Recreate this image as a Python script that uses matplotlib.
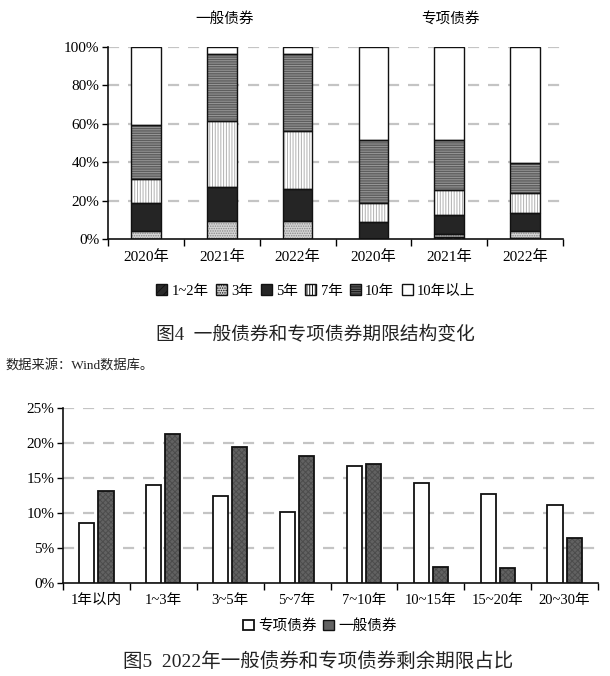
import matplotlib
matplotlib.use("Agg")
import matplotlib.pyplot as plt
from matplotlib.patches import Patch
import numpy as np

plt.rcParams['font.family'] = ['Liberation Serif', 'Noto Sans CJK SC']
plt.rcParams['hatch.linewidth'] = 0.7

# ---------- data: figure 4 ----------
years = ["2020年", "2021年", "2022年", "2020年", "2021年", "2022年"]
groups = ["一般债券", "专项债券"]
maturities = ["1~2年", "3年", "5年", "7年", "10年", "10年以上"]
m_1_2 = [0.0, 0.0, 0.0, 0.0, 1.0, 0.5]
m_3 = [4.3, 9.3, 9.2, 0.0, 1.8, 3.5]
m_5 = [14.6, 18.0, 16.6, 8.8, 9.8, 9.3]
m_7 = [12.4, 34.3, 30.6, 9.9, 12.7, 10.4]
m_10 = [28.0, 34.8, 40.0, 32.7, 26.1, 16.1]
m_10plus = [40.7, 3.6, 3.6, 48.6, 48.6, 60.2]

# ---------- data: figure 5 ----------
remain_cats = ["1年以内", "1~3年", "3~5年", "5~7年", "7~10年", "10~15年", "15~20年", "20~30年"]
special = [8.6, 14.0, 12.4, 10.1, 16.7, 14.3, 12.7, 11.2]
general = [13.2, 21.3, 19.5, 18.2, 17.0, 2.3, 2.1, 6.4]

W, H = 610, 676
fig = plt.figure(figsize=(W / 100, H / 100), dpi=100)

def px_axes(x0, y0, x1, y1):
    return fig.add_axes([x0 / W, 1 - y1 / H, (x1 - x0) / W, (y1 - y0) / H])

grid_kw = dict(color='#c4c4c4', lw=1.6, dashes=(5, 4), zorder=0)

# ================= Figure 4 =================
ax = px_axes(108, 47, 563, 239)
series = [m_1_2, m_3, m_5, m_7, m_10, m_10plus]
styles = [
    dict(fc='#2a2a2a', hc='#d0d0d0', hatch='////'),
    dict(fc='#d4d4d4', hc='#8a8a8a', hatch='.......'),
    dict(fc='#252525', hc='#252525', hatch=None),
    dict(fc='#ffffff', hc='#b0b0b0', hatch='||||||'),
    dict(fc='#5e5e5e', hc='#999999', hatch='-------'),
    dict(fc='#ffffff', hc='#ffffff', hatch=None),
]
x = np.arange(len(years))
bw = 0.39
bottom = np.zeros(len(years))
for vals, st in zip(series, styles):
    v = np.array(vals)
    ax.bar(x, v, bw, bottom=bottom, color=st['fc'], edgecolor=st['hc'],
           hatch=st['hatch'], lw=0, zorder=2)
    ax.bar(x, v, bw, bottom=bottom, fill=False, edgecolor='#111111', lw=1.0, zorder=3)
    bottom += v

ax.set_xlim(-0.5, len(years) - 0.5)
ax.set_ylim(0, 100)
for yv in [20, 40, 60, 80, 100]:
    ax.axhline(yv, **grid_kw)
ax.set_yticks([0, 20, 40, 60, 80, 100])
ax.set_yticklabels([f"{v}%" for v in [0, 20, 40, 60, 80, 100]], fontsize=11)
ax.set_xticks(x)
ax.set_xticklabels(years, fontsize=11)
ax.set_xticks(np.arange(-0.5, len(years)), minor=True)
ax.tick_params(axis='x', which='major', length=0, pad=8)
ax.tick_params(axis='x', which='minor', length=5, width=1, direction='out')
ax.tick_params(axis='y', length=4, width=1, pad=2)
for s in ['top', 'right']:
    ax.spines[s].set_visible(False)
for s in ['left', 'bottom']:
    ax.spines[s].set_linewidth(1.2)
    ax.spines[s].set_color('#111111')
ax.set_axisbelow(True)

fig.text(225 / W, 1 - 19 / H, groups[0], ha='center', va='center', fontsize=10.5)
fig.text(450 / W, 1 - 19 / H, groups[1], ha='center', va='center', fontsize=10.5)

handles = []
for name, st in zip(maturities, styles):
    handles.append(Patch(facecolor=st['fc'], edgecolor='#111111', hatch=st['hatch'], lw=1.0, label=name))
leg = fig.legend(handles=handles, loc='center', bbox_to_anchor=(316 / W, 1 - 291 / H), ncol=6,
                 frameon=False, fontsize=10.5, handlelength=0.75, handleheight=0.75,
                 handletextpad=0.3, columnspacing=0.5, borderpad=0)

fig.text(315 / W, 1 - 335 / H, "图4  一般债券和专项债券期限结构变化", ha='center', va='center', fontsize=13.5,
         color='#222222')
fig.text(5 / W, 1 - 365 / H, "数据来源：Wind数据库。", ha='left', va='center', fontsize=9.5, color='#222222')

# ================= Figure 5 =================
ax2 = px_axes(63, 408, 598, 583)
x2 = np.arange(len(remain_cats))
bw2 = 0.225
off = 0.143
ax2.bar(x2 - off, special, bw2, color='white', edgecolor='#111111', lw=1.3, zorder=3, label="专项债券")
ax2.bar(x2 + off, general, bw2, color='#626262', edgecolor='#4c4c4c', hatch='xxxxxx', lw=0, zorder=2)
ax2.bar(x2 + off, general, bw2, fill=False, edgecolor='#111111', lw=1.3, zorder=3)
ax2.set_xlim(-0.5, len(remain_cats) - 0.5)
ax2.set_ylim(0, 25)
for yv in [5, 10, 15, 20, 25]:
    ax2.axhline(yv, **grid_kw)
ax2.set_yticks([0, 5, 10, 15, 20, 25])
ax2.set_yticklabels([f"{v}%" for v in [0, 5, 10, 15, 20, 25]], fontsize=11)
ax2.set_xticks(x2)
ax2.set_xticklabels(remain_cats, fontsize=10.5)
ax2.set_xticks(np.arange(-0.5, len(remain_cats)), minor=True)
ax2.tick_params(axis='x', which='major', length=0, pad=8)
ax2.tick_params(axis='x', which='minor', length=5, width=1, direction='out')
ax2.tick_params(axis='y', length=4, width=1, pad=2)
for s in ['top', 'right']:
    ax2.spines[s].set_visible(False)
for s in ['left', 'bottom']:
    ax2.spines[s].set_linewidth(1.2)
    ax2.spines[s].set_color('#111111')
ax2.set_axisbelow(True)

h2 = [Patch(facecolor='white', edgecolor='#111111', lw=1.3, label="专项债券"),
      Patch(facecolor='#626262', edgecolor='#111111', lw=1.0, label="一般债券")]
fig.legend(handles=h2, loc='center', bbox_to_anchor=(320 / W, 1 - 626 / H), ncol=2, frameon=False,
           fontsize=10.5, handlelength=0.75, handleheight=0.75, handletextpad=0.3,
           columnspacing=0.4, borderpad=0)

fig.text(318 / W, 1 - 662 / H, "图5  2022年一般债券和专项债券剩余期限占比", ha='center', va='center',
         fontsize=14, color='#222222')

fig.savefig("out.png", dpi=100)
